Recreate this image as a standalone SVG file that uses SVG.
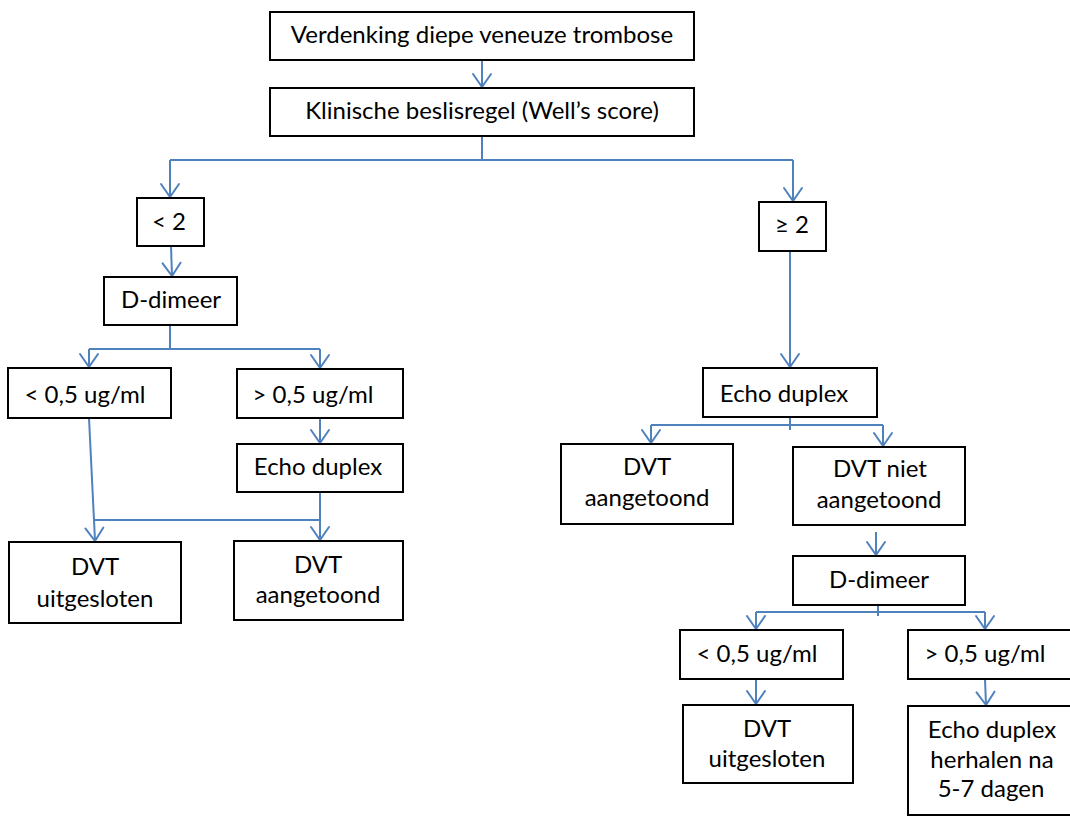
<svg xmlns="http://www.w3.org/2000/svg" width="1070" height="819" viewBox="0 0 1070 819">
<style>
.box{fill:#fff;stroke:#000;stroke-width:2}
.t{font-family:Lato,"Open Sans",sans-serif;font-size:24px;fill:#000;text-anchor:middle}
.c{fill:none;stroke:#4F81BD;stroke-width:2}
</style>
<defs>
<marker id="arr" markerUnits="userSpaceOnUse" markerWidth="30" markerHeight="30" refX="0" refY="0" orient="auto" overflow="visible">
<path d="M-13,-9 L0,0 L-13,9" fill="none" stroke="#4F81BD" stroke-width="2" stroke-linejoin="round" stroke-linecap="round"/>
</marker>
</defs>
<rect width="1070" height="819" fill="#fff"/>
<g id="connectors">
<path class="c" d="M482,60 L482,87" marker-end="url(#arr)"/>
<path class="c" d="M482,136 L482,160"/>
<path class="c" d="M170,160 L793,160"/>
<path class="c" d="M170,160 L170,197" marker-end="url(#arr)"/>
<path class="c" d="M793,160 L793,201" marker-end="url(#arr)"/>
<path class="c" d="M171,246 L172,276" marker-end="url(#arr)"/>
<path class="c" d="M170,325 L170,349"/>
<path class="c" d="M89,349 L320,349"/>
<path class="c" d="M89,349 L89,367" marker-end="url(#arr)"/>
<path class="c" d="M320,349 L320,368" marker-end="url(#arr)"/>
<path class="c" d="M320,418 L320,443" marker-end="url(#arr)"/>
<path class="c" d="M89,418 L94,520 L95,541" marker-end="url(#arr)"/>
<path class="c" d="M320,492 L320,520 L95,520"/>
<path class="c" d="M320,520 L320,540" marker-end="url(#arr)"/>
<path class="c" d="M790,251 L790,367" marker-end="url(#arr)"/>
<path class="c" d="M790,417 L790,430"/>
<path class="c" d="M651,425 L883,425"/>
<path class="c" d="M651,425 L651,443" marker-end="url(#arr)"/>
<path class="c" d="M883,425 L883,446" marker-end="url(#arr)"/>
<path class="c" d="M876,532 L876,555" marker-end="url(#arr)"/>
<path class="c" d="M878,605 L878,616"/>
<path class="c" d="M756,612 L985,612"/>
<path class="c" d="M756,612 L756,629" marker-end="url(#arr)"/>
<path class="c" d="M985,612 L985,629" marker-end="url(#arr)"/>
<path class="c" d="M756,679 L756,704" marker-end="url(#arr)"/>
<path class="c" d="M985,679 L986,705" marker-end="url(#arr)"/>
</g>
<g id="n1"><rect class="box" x="270" y="12" width="424" height="48"/><text class="t" x="482" y="43">Verdenking diepe veneuze trombose</text></g>
<g id="n2"><rect class="box" x="270" y="88" width="424" height="48"/><text class="t" x="482" y="119">Klinische beslisregel (Well’s score)</text></g>
<g id="n3"><rect class="box" x="137" y="198" width="67" height="48"/><text class="t" x="169" y="230">&lt; 2</text></g>
<g id="n4"><rect class="box" x="759" y="202" width="67" height="49"/><text class="t" x="792" y="233">≥ 2</text></g>
<g id="n5"><rect class="box" x="104" y="277" width="133" height="48"/><text class="t" x="171" y="308">D-dimeer</text></g>
<g id="n6"><rect class="box" x="8" y="368" width="163" height="50"/><text class="t" x="85" y="403">&lt; 0,5 ug/ml</text></g>
<g id="n7"><rect class="box" x="237" y="369" width="166" height="49"/><text class="t" x="313" y="403">&gt; 0,5 ug/ml</text></g>
<g id="n8"><rect class="box" x="237" y="444" width="166" height="48"/><text class="t" x="318" y="475">Echo duplex</text></g>
<g id="n9"><rect class="box" x="9" y="542" width="172" height="81"/><text class="t" x="95" y="575">DVT</text><text class="t" x="95" y="607">uitgesloten</text></g>
<g id="n10"><rect class="box" x="234" y="541" width="169" height="79"/><text class="t" x="318" y="573">DVT</text><text class="t" x="318" y="603">aangetoond</text></g>
<g id="n11"><rect class="box" x="703" y="368" width="174" height="49"/><text class="t" x="784" y="402">Echo duplex</text></g>
<g id="n12"><rect class="box" x="561" y="444" width="172" height="80"/><text class="t" x="647" y="475">DVT</text><text class="t" x="647" y="506">aangetoond</text></g>
<g id="n13"><rect class="box" x="793" y="447" width="172" height="78"/><text class="t" x="880" y="477">DVT niet</text><text class="t" x="879" y="508">aangetoond</text></g>
<g id="n14"><rect class="box" x="793" y="556" width="172" height="49"/><text class="t" x="879" y="588">D-dimeer</text></g>
<g id="n15"><rect class="box" x="680" y="630" width="163" height="49"/><text class="t" x="757" y="662">&lt; 0,5 ug/ml</text></g>
<g id="n16"><rect class="box" x="908" y="630" width="170" height="49"/><text class="t" x="985" y="662">&gt; 0,5 ug/ml</text></g>
<g id="n17"><rect class="box" x="683" y="705" width="170" height="78"/><text class="t" x="767" y="737">DVT</text><text class="t" x="767" y="767">uitgesloten</text></g>
<g id="n18"><rect class="box" x="908" y="706" width="170" height="109"/><text class="t" x="992" y="738">Echo duplex</text><text class="t" x="992" y="768">herhalen na</text><text class="t" x="991" y="797">5-7 dagen</text></g>
</svg>
